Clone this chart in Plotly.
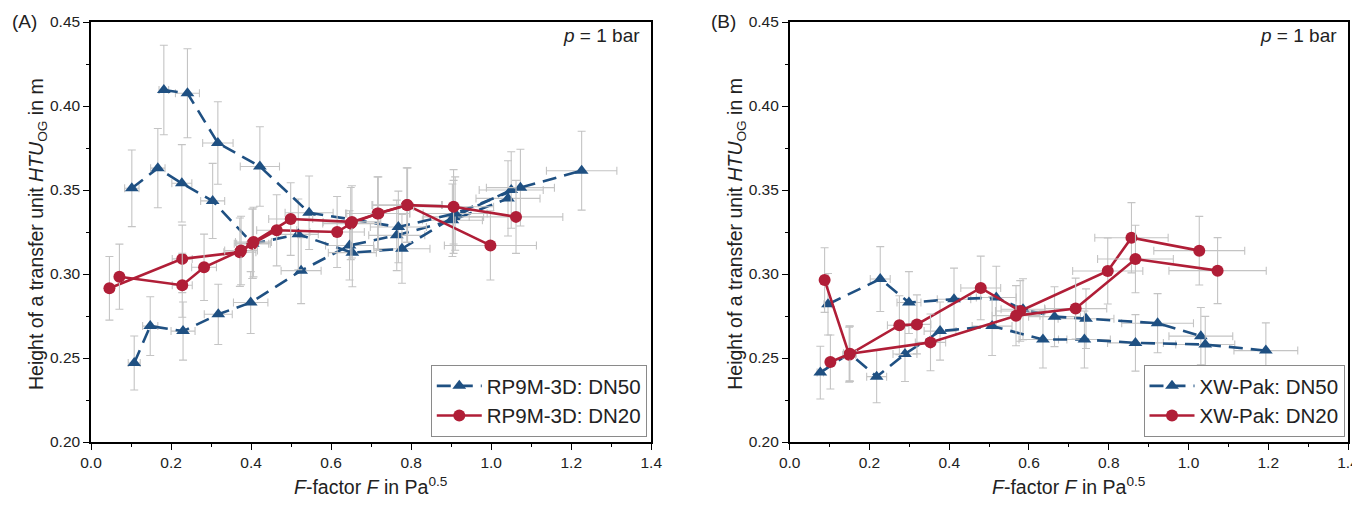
import plotly.graph_objects as go

# ---------------- Data ----------------
# Panel A: RP9M-3D
a_dn50_run1_F = [0.108, 0.148, 0.230, 0.318, 0.399, 0.525, 0.646, 0.764, 0.903, 1.042]
a_dn50_run1_H = [0.247, 0.269, 0.266, 0.276, 0.283, 0.302, 0.317, 0.323, 0.332, 0.345]
a_dn50_run1_dF = [0.015, 0.019, 0.030, 0.035, 0.043, 0.050, 0.060, 0.070, 0.075, 0.080]

a_dn50_run2_F = [0.102, 0.167, 0.227, 0.304, 0.404, 0.518, 0.653, 0.777, 0.906, 1.050]
a_dn50_run2_H = [0.351, 0.363, 0.354, 0.3435, 0.318, 0.3236, 0.3127, 0.315, 0.334, 0.350]
a_dn50_run2_dF = [0.018, 0.018, 0.025, 0.030, 0.040, 0.050, 0.060, 0.070, 0.075, 0.080]

a_dn50_run3_F = [0.182, 0.241, 0.317, 0.422, 0.545, 0.768, 0.910, 1.073, 1.226]
a_dn50_run3_H = [0.4095, 0.4076, 0.378, 0.364, 0.3365, 0.328, 0.336, 0.3514, 0.3615]
a_dn50_run3_dF = [0.012, 0.030, 0.038, 0.049, 0.060, 0.070, 0.080, 0.085, 0.088]

a_dn20_run1_F = [0.046, 0.228, 0.372, 0.403, 0.464, 0.615, 0.649, 0.716, 0.789, 0.998]
a_dn20_run1_H = [0.2915, 0.309, 0.313, 0.318, 0.326, 0.325, 0.330, 0.336, 0.341, 0.317]
a_dn20_run1_dF = [0.005, 0.025, 0.040, 0.045, 0.050, 0.068, 0.070, 0.080, 0.087, 0.115]

a_dn20_run2_F = [0.071, 0.228, 0.2825, 0.375, 0.406, 0.499, 0.652, 0.718, 0.791, 0.906, 1.062]
a_dn20_run2_H = [0.2984, 0.2933, 0.304, 0.314, 0.319, 0.3327, 0.331, 0.336, 0.341, 0.340, 0.334]
a_dn20_run2_dF = [0.008, 0.025, 0.031, 0.041, 0.045, 0.055, 0.072, 0.079, 0.087, 0.100, 0.117]

# Panel B: XW-Pak
b_dn50_run1_F = [0.096, 0.227, 0.299, 0.412, 0.518, 0.585, 0.664, 0.743, 0.9225, 1.031]
b_dn50_run1_H = [0.282, 0.297, 0.283, 0.285, 0.286, 0.279, 0.2746, 0.2734, 0.2707, 0.263]
b_dn50_run1_dF = [0.010, 0.025, 0.030, 0.042, 0.050, 0.055, 0.065, 0.070, 0.090, 0.080]

b_dn50_run2_F = [0.0767, 0.150, 0.218, 0.289, 0.377, 0.5075, 0.635, 0.739, 0.867, 1.042, 1.194]
b_dn50_run2_H = [0.2413, 0.2528, 0.2389, 0.2524, 0.266, 0.269, 0.261, 0.261, 0.259, 0.258, 0.2544]
b_dn50_run2_dF = [0.008, 0.015, 0.025, 0.030, 0.040, 0.050, 0.060, 0.065, 0.070, 0.074, 0.080]

b_dn20_run1_F = [0.0875, 0.149, 0.275, 0.319, 0.479, 0.578, 0.7975, 0.857, 1.027]
b_dn20_run1_H = [0.2964, 0.252, 0.2695, 0.270, 0.2917, 0.278, 0.3018, 0.3216, 0.3139]
b_dn20_run1_dF = [0.010, 0.016, 0.030, 0.035, 0.050, 0.062, 0.088, 0.092, 0.114]

b_dn20_run2_F = [0.102, 0.151, 0.353, 0.5675, 0.717, 0.867, 1.073]
b_dn20_run2_H = [0.2476, 0.2525, 0.2593, 0.2752, 0.2794, 0.3089, 0.302]
b_dn20_run2_dF = [0.011, 0.016, 0.038, 0.060, 0.078, 0.095, 0.122]

series_names = ["RP9M-3D: DN50", "RP9M-3D: DN20", "XW-Pak: DN50", "XW-Pak: DN20"]
x_ticks = [0.0, 0.2, 0.4, 0.6, 0.8, 1.0, 1.2, 1.4]
y_ticks = [0.20, 0.25, 0.30, 0.35, 0.40, 0.45]

# ---------------- Styling ----------------
BLUE = "#1F5082"
RED = "#B01E37"
ERR = "#C4C4C4"
FONT = "Liberation Sans, Arial, sans-serif"
TXT = "#222"
Y_REL_ERR = 6.5  # percent

fig = go.Figure()


def add_run(F, H, dF, name, color, symbol, dash, xa, ya, legend, show):
    fig.add_trace(go.Scatter(
        x=F, y=H, mode="lines+markers", name=name,
        showlegend=show, legend=legend,
        xaxis=xa, yaxis=ya,
        line=dict(color=color, width=2.6, dash=dash),
        marker=dict(symbol=symbol, size=12, color=color),
        error_y=dict(type="percent", value=Y_REL_ERR, color=ERR, thickness=1.1, width=4),
        error_x=dict(type="data", array=dF, color=ERR, thickness=1.1, width=4),
    ))


DASH = "14px,8px"
# Panel A
add_run(a_dn50_run1_F, a_dn50_run1_H, a_dn50_run1_dF, series_names[0], BLUE, "triangle-up", DASH, "x", "y", "legend", True)
add_run(a_dn50_run2_F, a_dn50_run2_H, a_dn50_run2_dF, series_names[0], BLUE, "triangle-up", DASH, "x", "y", "legend", False)
add_run(a_dn50_run3_F, a_dn50_run3_H, a_dn50_run3_dF, series_names[0], BLUE, "triangle-up", DASH, "x", "y", "legend", False)
add_run(a_dn20_run1_F, a_dn20_run1_H, a_dn20_run1_dF, series_names[1], RED, "circle", "solid", "x", "y", "legend", True)
add_run(a_dn20_run2_F, a_dn20_run2_H, a_dn20_run2_dF, series_names[1], RED, "circle", "solid", "x", "y", "legend", False)
# Panel B
add_run(b_dn50_run1_F, b_dn50_run1_H, b_dn50_run1_dF, series_names[2], BLUE, "triangle-up", DASH, "x2", "y2", "legend2", True)
add_run(b_dn50_run2_F, b_dn50_run2_H, b_dn50_run2_dF, series_names[2], BLUE, "triangle-up", DASH, "x2", "y2", "legend2", False)
add_run(b_dn20_run1_F, b_dn20_run1_H, b_dn20_run1_dF, series_names[3], RED, "circle", "solid", "x2", "y2", "legend2", True)
add_run(b_dn20_run2_F, b_dn20_run2_H, b_dn20_run2_dF, series_names[3], RED, "circle", "solid", "x2", "y2", "legend2", False)

# Page is shown with the browser's default 8px body margin, so the figure is
# made smaller and all page coordinates are shifted by 8px (keeps the page
# free of scrollbars).
OFF = 8
W, Hh = 1360 - OFF, 506 - 2 * OFF
PL, PR_A, PL_B, PR = 91, 651.5, 790, 1348.5     # page x of plot edges
PT, PB = 22, 442                                 # page y of plot edges
ML, MT = PL - OFF, PT - OFF
MR, MB = W - (PR - OFF), Hh - (PB - OFF)
plot_w = PR - PL
plot_h = PB - PT


def fx(p):  # page x -> paper x
    return (p - PL) / plot_w


def fy(p):  # page y -> paper y
    return (PB - p) / plot_h


axis_common = dict(
    showline=True, linecolor="black", linewidth=1.5, mirror=True,
    ticks="outside", ticklen=6, tickwidth=1.2, tickcolor="black",
    showgrid=False, zeroline=False, automargin=False,
    ticklabeloverflow="allow",
    tickfont=dict(family=FONT, size=15.5, color=TXT),
)

xaxis_cfg = dict(range=[0, 1.4], tickvals=x_ticks, ticktext=[f"{v:.1f}" for v in x_ticks],
                 minor=dict(ticks="outside", ticklen=3, dtick=0.1, tickcolor="black"),
                 **axis_common)
yaxis_cfg = dict(range=[0.20, 0.45], tickvals=y_ticks, ticktext=[f"{v:.2f}" for v in y_ticks],
                 minor=dict(ticks="outside", ticklen=3, dtick=0.025, tickcolor="black"),
                 **axis_common)

legend_common = dict(
    bgcolor="white", bordercolor="#8a8a8a", borderwidth=1,
    font=dict(family=FONT, size=20.5, color=TXT),
    xanchor="right", yanchor="bottom", itemwidth=45,
    traceorder="normal", tracegroupgap=0,
)

fig.update_layout(
    width=W, height=Hh,
    margin=dict(l=ML, r=MR, t=MT, b=MB, autoexpand=False),
    paper_bgcolor="white", plot_bgcolor="white",
    font=dict(family=FONT, color=TXT),
    xaxis=dict(domain=[fx(PL), fx(PR_A)], anchor="y", **xaxis_cfg),
    yaxis=dict(domain=[0, 1], anchor="x", **yaxis_cfg),
    xaxis2=dict(domain=[fx(PL_B), fx(PR)], anchor="y2", **xaxis_cfg),
    yaxis2=dict(domain=[0, 1], anchor="x2", **yaxis_cfg),
    legend=dict(x=fx(647), y=fy(437), **legend_common),
    legend2=dict(x=fx(1345), y=fy(437), **legend_common),
    showlegend=True,
)

xtitle_text = "<i>F</i>-factor <i>F</i> in Pa<sup>0.5</sup>"
ytitle_text = "Height of a transfer unit <i>HTU</i><sub>OG</sub> in m"

for lbl, lx, x0, x1, ytx in [("(A)", 10, PL, PR_A, 37), ("(B)", 709, PL_B, PR, 736)]:
    # panel label
    fig.add_annotation(text=lbl, xref="paper", yref="paper", x=fx(lx), y=fy(21),
                       xanchor="left", yanchor="middle", showarrow=False,
                       font=dict(family=FONT, size=19, color=TXT))
    # x-axis title
    fig.add_annotation(text=xtitle_text, xref="paper", yref="paper",
                       x=fx((x0 + x1) / 2), y=fy(486), xanchor="center", yanchor="middle",
                       showarrow=False, font=dict(family=FONT, size=19.5, color=TXT))
    # y-axis title
    fig.add_annotation(text=ytitle_text, xref="paper", yref="paper", textangle=-90,
                       x=fx(ytx), y=fy(234), xanchor="center", yanchor="middle",
                       showarrow=False, font=dict(family=FONT, size=19.5, color=TXT))

for xr, yr in [("x domain", "y domain"), ("x2 domain", "y2 domain")]:
    fig.add_annotation(text="<i>p</i> = 1 bar", xref=xr, yref=yr, x=0.983, y=fy(36),
                       xanchor="right", yanchor="middle", showarrow=False,
                       font=dict(family=FONT, size=19, color=TXT))

fig.write_html("out.html")
